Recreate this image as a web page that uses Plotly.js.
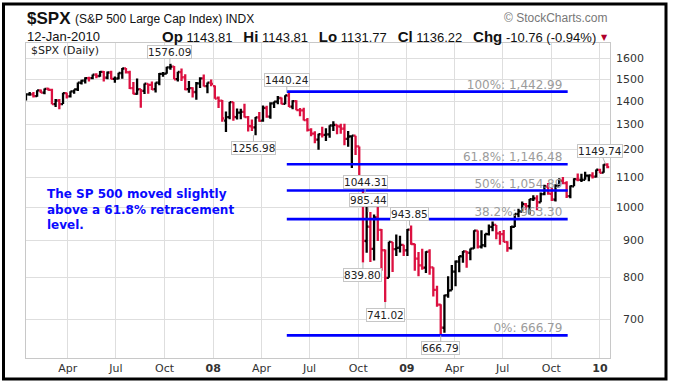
<!DOCTYPE html>
<html><head><meta charset="utf-8">
<script src="https://cdn.plot.ly/plotly-3.0.1.min.js"></script>
<style>html,body{margin:0;padding:0;background:#fff}#chart{width:675px;height:384px}</style>
</head><body><div id="chart"></div>
<script>
// Weekly bars (week-ending Friday)
const weekDates = ("2007-01-12 2007-01-19 2007-01-26 2007-02-02 2007-02-09 2007-02-16 2007-02-23 2007-03-02 2007-03-09 2007-03-16 2007-03-23 2007-03-30 " +
 "2007-04-06 2007-04-13 2007-04-20 2007-04-27 2007-05-04 2007-05-11 2007-05-18 2007-05-25 2007-06-01 2007-06-08 2007-06-15 2007-06-22 2007-06-29 " +
 "2007-07-06 2007-07-13 2007-07-20 2007-07-27 2007-08-03 2007-08-10 2007-08-17 2007-08-24 2007-08-31 2007-09-07 2007-09-14 2007-09-21 2007-09-28 " +
 "2007-10-05 2007-10-12 2007-10-19 2007-10-26 2007-11-02 2007-11-09 2007-11-16 2007-11-23 2007-11-30 2007-12-07 2007-12-14 2007-12-21 2007-12-28 " +
 "2008-01-04 2008-01-11 2008-01-18 2008-01-25 2008-02-01 2008-02-08 2008-02-15 2008-02-22 2008-02-29 2008-03-07 2008-03-14 2008-03-21 2008-03-28 " +
 "2008-04-04 2008-04-11 2008-04-18 2008-04-25 2008-05-02 2008-05-09 2008-05-16 2008-05-23 2008-05-30 2008-06-06 2008-06-13 2008-06-20 2008-06-27 " +
 "2008-07-04 2008-07-11 2008-07-18 2008-07-25 2008-08-01 2008-08-08 2008-08-15 2008-08-22 2008-08-29 2008-09-05 2008-09-12 2008-09-19 2008-09-26 " +
 "2008-10-03 2008-10-10 2008-10-17 2008-10-24 2008-10-31 2008-11-07 2008-11-14 2008-11-21 2008-11-28 2008-12-05 2008-12-12 2008-12-19 2008-12-26 " +
 "2009-01-02 2009-01-09 2009-01-16 2009-01-23 2009-01-30 2009-02-06 2009-02-13 2009-02-20 2009-02-27 2009-03-06 2009-03-13 2009-03-20 2009-03-27 " +
 "2009-04-03 2009-04-10 2009-04-17 2009-04-24 2009-05-01 2009-05-08 2009-05-15 2009-05-22 2009-05-29 2009-06-05 2009-06-12 2009-06-19 2009-06-26 " +
 "2009-07-03 2009-07-10 2009-07-17 2009-07-24 2009-07-31 2009-08-07 2009-08-14 2009-08-21 2009-08-28 2009-09-04 2009-09-11 2009-09-18 2009-09-25 " +
 "2009-10-02 2009-10-09 2009-10-16 2009-10-23 2009-10-30 2009-11-06 2009-11-13 2009-11-20 2009-11-27 2009-12-04 2009-12-11 2009-12-18 2009-12-25 " +
 "2010-01-01 2010-01-08 2010-01-15").split(' ');

const openP = [1409,1430,1430,1422,1448,1438,1456,1451,1387,1402,1387,1436,1421,1444,1453,1484,1494,1506,1506,1523,1516,1536,1508,1533,1502,1504,1530,1553,1534,1459,1433,1454,1446,1479,1474,1454,1484,1526,1527,1558,1562,1501,1535,1510,1454,1459,1441,1481,1505,1468,1485,
 1468,1415,1402,1316,1331,1396,1331,1350,1353,1331,1293,1288,1330,1316,1370,1333,1390,1398,1414,1388,1425,1376,1400,1361,1360,1318,1278,1263,1239,1261,1258,1260,1296,1298,1292,1283,1242,1252,1255,1213,1099,899,940,877,969,931,873,800,896,876,880,888,
 873,932,890,850,832,826,869,827,770,735,683,757,769,816,842,856,870,866,878,929,883,887,919,940,946,921,919,896,879,940,979,987,1010,1004,1026,1029,1016,1043,1068,1044,1025,1071,1088,1080,1036,1069,1093,1091,1091,1106,1106,1102,1126,1116,1145];
const highP = [1431,1441,1441,1449,1452,1457,1461,1456,1409,1410,1438,1438,1445,1453,1485,1498,1510,1513,1523,1529,1540,1540,1538,1541,1514,1532,1555,1555,1541,1488,1504,1455,1480,1481,1490,1485,1530,1535,1561,1576.1,1565,1536,1553,1524,1492,1463,1488,1510,1523,1485,1499,
 1471,1421,1405,1355,1396,1396,1368,1367,1389,1336,1321,1331,1353,1381,1380,1395,1398,1423,1416,1426,1440.2,1404,1404,1370,1371,1327,1285,1273,1263,1291,1285,1297,1314,1300,1303,1303,1274,1256,1255,1213,1099,1044.3,985.4,978,1007,934,875,897,896,918,914,888,
 934,943.9,891,868,877,870,876,827,780,736,758,804,833,845,857,871,871,878,930,929,930,920,947,956,946,928,931,898,943,980,996,1019,1014,1027,1039,1039,1048,1074,1080,1063,1076,1097,1101,1086,1072,1097,1113,1112,1119,1110,1118,1127,1130,1146,1149.7];
const lowP = [1403,1424,1416,1420,1437,1431,1448,1386,1374,1364,1387,1412,1416,1433,1446,1476,1481,1490,1500,1505,1512,1490,1500,1500,1484,1500,1503,1528,1455,1431,1429,1371,1432,1433,1450,1439,1472,1512,1527,1546,1500,1490,1492,1449,1438,1416,1406,1460,1467,1435,1468,
 1411,1370,1312,1270,1322,1316,1321,1322,1329,1272,1274,1257,1312,1312,1328,1324,1370,1386,1386,1386,1374,1364,1360,1335,1317,1272,1253,1225,1200,1248,1234,1247,1274,1261,1263,1217,1212,1133,1180,1098,839.8,866,841,845,899,818,741,800,815,857,867,857,
 857,888,818,804,821,812,808,754,730,666.8,672,751,769,779,814,839,826,846,877,878,878,881,915,927,904,888,896,869,875,940,969,987,991,978,1020,991,1016,1039,1041,1020,1019,1070,1076,1030,1029,1069,1086,1084,1091,1086,1096,1099,1114,1116,1132];
const closeP = [1430.7,1430.5,1422.2,1448.4,1438.1,1455.5,1451.2,1387.2,1402.8,1387.0,1436.1,1420.9,1443.8,1452.9,1484.4,1494.1,1505.6,1505.9,1522.8,1515.7,1536.3,1507.7,1532.9,1502.6,1503.4,1530.4,1552.5,1534.1,1459.0,1433.1,1453.6,1445.9,1479.4,1474.0,1453.6,1484.3,1525.8,1526.8,1557.6,1561.8,1500.6,1535.3,1509.7,1453.7,1458.7,1440.7,1481.1,1504.7,1468.0,1484.5,1478.5,
 1411.6,1401.0,1325.2,1330.6,1395.4,1331.3,1350.0,1353.1,1330.6,1293.4,1288.1,1329.5,1315.2,1370.4,1332.8,1390.3,1397.8,1413.9,1388.3,1425.4,1375.9,1400.4,1360.7,1360.0,1317.9,1278.4,1262.9,1239.5,1260.7,1257.8,1260.3,1296.3,1298.2,1292.2,1282.8,1242.3,1251.7,1255.1,1213.3,1099.2,899.2,940.6,876.8,968.8,931.0,873.3,800.0,896.2,876.1,879.7,887.9,872.8,
 931.8,890.4,850.1,832.0,825.9,868.6,826.8,770.1,735.1,683.4,756.6,768.5,815.9,842.5,856.6,869.6,866.2,877.5,929.2,882.9,887.0,919.1,940.1,946.2,921.2,918.9,896.4,879.1,940.4,979.3,987.5,1010.5,1004.1,1026.1,1028.9,1016.4,1042.7,1068.3,1044.4,1025.2,1071.5,1087.7,1079.6,1036.2,1069.3,1093.5,1091.4,1091.5,1106.0,1106.4,1102.5,1126.5,1115.1,1145.0,1136.2];

const tickDates = ['2007-04-01','2007-07-01','2007-10-01','2008-01-01','2008-04-01','2008-07-01','2008-10-01','2009-01-01','2009-04-01','2009-07-01','2009-10-01','2010-01-01'];
const tickText = ['Apr','Jul','Oct','<b>08</b>','Apr','Jul','Oct','<b>09</b>','Apr','Jul','Oct','<b>10</b>'];
const priceTicks = [700,800,900,1000,1100,1200,1300,1400,1500,1600];

const fibLevels = [1442.99,1146.48,1054.89,963.30,666.79];
const fibNames = ['100%: 1,442.99','61.8%: 1,146.48','50%: 1,054.89','38.2%: 963.30','0%: 666.79'];
const fibStart = '2008-05-19', fibEnd = '2009-11-01', fibLabelAt = '2009-10-22';

const pointDates = ['2007-10-11','2008-05-19','2008-03-17','2008-10-14','2008-10-20','2009-01-06','2008-10-10','2008-11-21','2009-03-06','2010-01-11'];
const pointValues = [1576.09,1440.24,1256.98,1044.31,985.44,943.85,839.80,741.02,666.79,1149.74];
const pointText = ['1576.09','1440.24','1256.98','1044.31','985.44','943.85','839.80','741.02','666.79','1149.74'];
const pointBelow = [false,false,true,false,false,false,true,true,true,false];

// ---- geometry helpers (pixel -> paper) ----
const L = 26, R = 65, T = 43, B = 26, W = 675, H = 384;
const pw = W - L - R, ph = H - T - B;
const px = v => (v - L) / pw;
const py = v => (H - B - v) / ph;

const traces = [];
// fib labels (under the bars)
traces.push({type:'scatter', mode:'text', x: fibLevels.map(()=>fibLabelAt), y: fibLevels, text: fibNames,
  textposition:'top left', textfont:{family:'DejaVu Sans', size:12, color:'#9b9b9b'}, hoverinfo:'skip', showlegend:false, cliponaxis:false});
traces.push({type:'ohlc', x: weekDates, open: openP, high: highP, low: lowP, close: closeP,
  increasing:{line:{color:'#000000', width:2.3}}, decreasing:{line:{color:'#dc1040', width:2.3}},
  tickwidth:0.5, hoverinfo:'skip', showlegend:false});
fibLevels.forEach(lv => traces.push({type:'scatter', mode:'lines', x:[fibStart, fibEnd], y:[lv, lv],
  line:{color:'#0000ff', width:2.6}, hoverinfo:'skip', showlegend:false}));

const ann = [];
// right axis labels (right aligned)
priceTicks.forEach(v => ann.push({xref:'paper', yref:'y', x: px(646), y: Math.log10(v), text: String(v),
  xanchor:'right', yanchor:'middle', showarrow:false, font:{family:'DejaVu Sans', size:11, color:'#333'}}));
// price callouts
pointValues.forEach((v,i) => {
  const below = pointBelow[i];
  ann.push({xref:'x', yref:'y', x: pointDates[i], y: Math.log10(v), text: pointText[i],
    showarrow:true, arrowhead:0, arrowwidth:1, arrowcolor:'#b5b5b5', ax: (i===9 ? -5 : 0), ay: below ? 13 : -12,
    bgcolor:'#ffffff', bordercolor:'#c6c6c6', borderwidth:1, borderpad:0,
    font:{family:'DejaVu Sans', size:10.5, color:'#222'}});
});
// legend-like label
ann.push({xref:'paper', yref:'paper', x: px(29), y: py(50), xanchor:'left', yanchor:'middle', showarrow:false,
  text:'$SPX (Daily)', font:{family:'DejaVu Sans', size:11, color:'#222'}});
// header
ann.push({xref:'paper', yref:'paper', x: px(25), y: py(18), xanchor:'left', yanchor:'middle', showarrow:false,
  text:'<b>$SPX</b>', font:{family:'Liberation Sans, Arial', size:17, color:'#111'}});
ann.push({xref:'paper', yref:'paper', x: px(73), y: py(19), xanchor:'left', yanchor:'middle', showarrow:false,
  text:'(S&P 500 Large Cap Index) INDX', font:{family:'Liberation Sans, Arial', size:12, color:'#111'}});
ann.push({xref:'paper', yref:'paper', x: px(610), y: py(18), xanchor:'right', yanchor:'middle', showarrow:false,
  text:'© StockCharts.com', font:{family:'Liberation Sans, Arial', size:12, color:'#777'}});
ann.push({xref:'paper', yref:'paper', x: px(25), y: py(36), xanchor:'left', yanchor:'middle', showarrow:false,
  text:'12-Jan-2010', font:{family:'Liberation Sans, Arial', size:13, color:'#111'}});
const bs = s => '<b><span style="font-size:15px">' + s + '</span></b>';
const gap = '&nbsp;&nbsp;&nbsp;';
ann.push({xref:'paper', yref:'paper', x: px(598), y: py(36), xanchor:'right', yanchor:'middle', showarrow:false,
  text: bs('Op') + ' 1143.81' + gap + bs('Hi') + ' 1143.81' + gap + bs('Lo') + ' 1131.77' + gap + bs('Cl') + ' 1136.22' + gap + bs('Chg') + ' -10.76 (-0.94%)',
  font:{family:'Liberation Sans, Arial', size:13, color:'#111'}});
ann.push({xref:'paper', yref:'paper', x: px(599), y: py(37), xanchor:'left', yanchor:'middle', showarrow:false,
  text:'▼', font:{family:'DejaVu Sans', size:8, color:'#b0002a'}});
// commentary
ann.push({xref:'paper', yref:'paper', x: px(45), y: py(185), xanchor:'left', yanchor:'top', align:'left', showarrow:false,
  text:'<b>The SP 500 moved slightly<br>above a 61.8% retracement<br>level.</b>',
  font:{family:'DejaVu Sans', size:12, color:'#0a0aff'}});

const layout = {
  width: W, height: H, margin:{l:L, r:R, t:T, b:B, pad:0},
  paper_bgcolor:'#ffffff', plot_bgcolor:'#ffffff', showlegend:false,
  xaxis:{type:'date', range:['2007-01-12','2010-01-20'], tickvals: tickDates, ticktext: tickText,
    showgrid:true, gridcolor:'#dedede', gridwidth:1, showline:true, linecolor:'#c8c8c8', linewidth:1, mirror:true,
    ticks:'', zeroline:false, rangeslider:{visible:false}, fixedrange:true,
    tickfont:{family:'DejaVu Sans', size:11, color:'#333'}},
  yaxis:{type:'log', range:[2.7928, 3.2261], tickvals: priceTicks, showticklabels:false, side:'right',
    showgrid:true, gridcolor:'#dedede', gridwidth:1, showline:true, linecolor:'#c8c8c8', linewidth:1, mirror:true,
    ticks:'', zeroline:false, fixedrange:true},
  annotations: ann,
  shapes:[{type:'rect', xref:'paper', yref:'paper', x0: px(3.5), x1: px(666), y0: py(379), y1: py(4),
    line:{color:'#000', width:3}, fillcolor:'rgba(0,0,0,0)', layer:'above'}]
};
Plotly.newPlot('chart', traces, layout, {displayModeBar:false, staticPlot:true});
</script></body></html>
